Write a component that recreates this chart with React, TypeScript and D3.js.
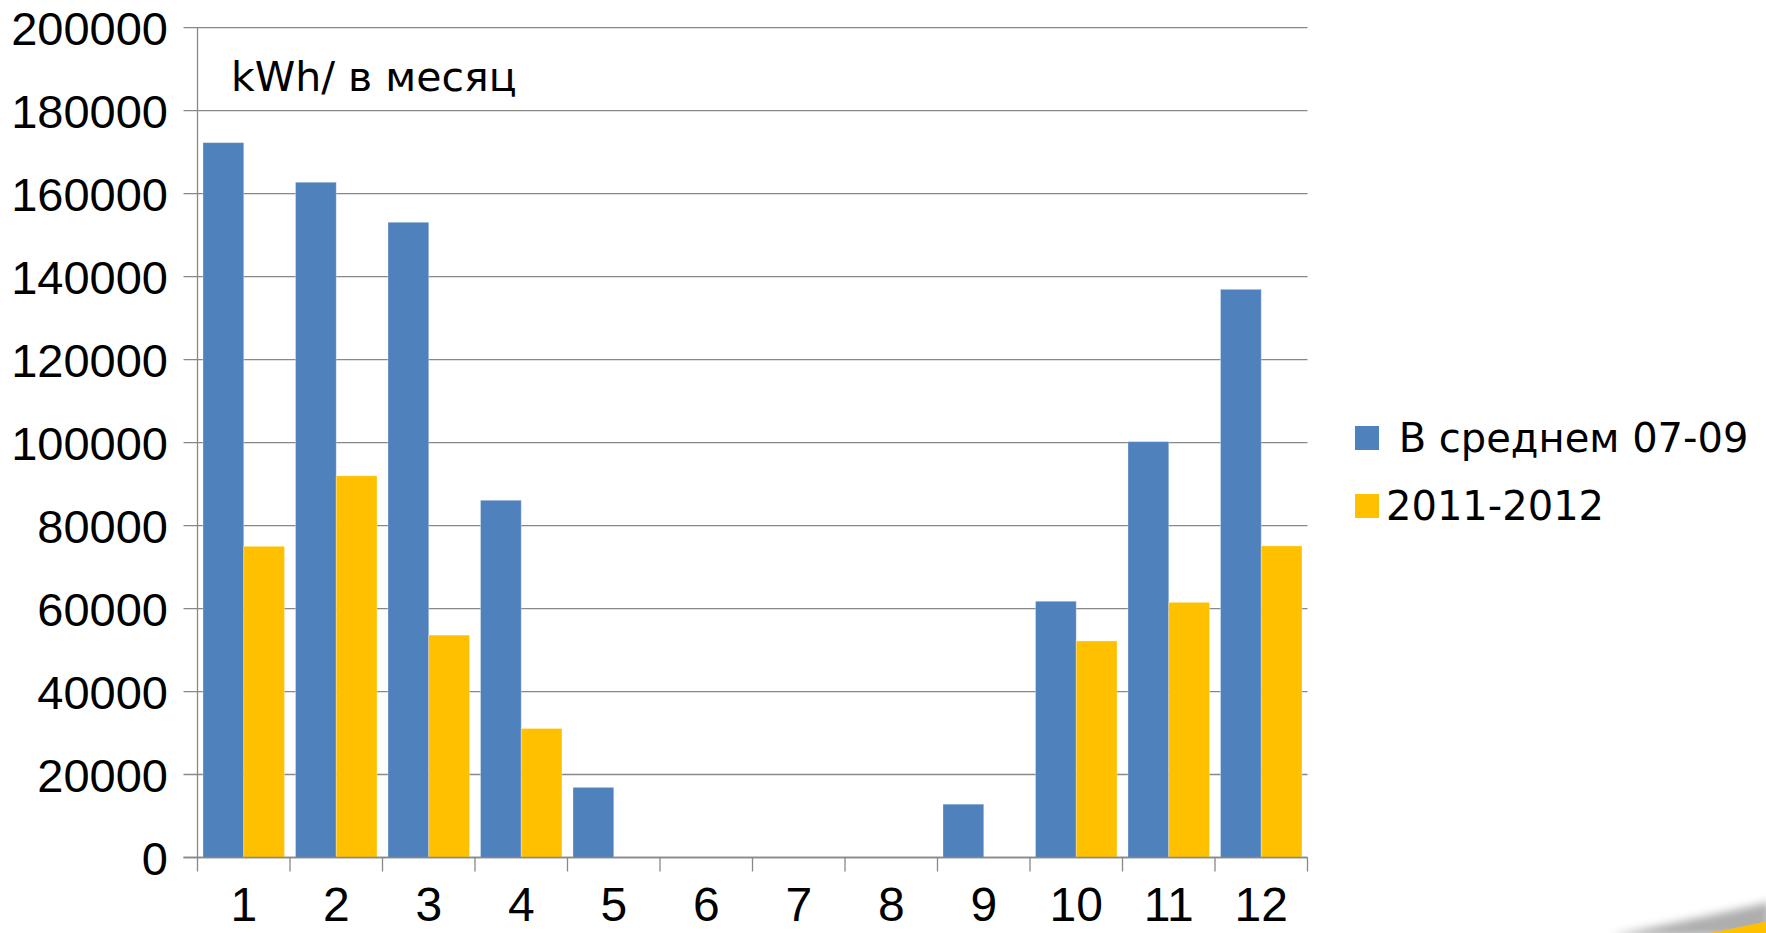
import React from 'react';
import * as d3 from 'd3';

const months = ['1', '2', '3', '4', '5', '6', '7', '8', '9', '10', '11', '12'];
const avg0709 = [172300, 162750, 153100, 86100, 16900, 0, 0, 0, 12850, 61760, 100240, 136940];
const y20112012 = [75000, 92000, 53600, 31100, 0, 0, 0, 0, 0, 52200, 61500, 75100];
const seriesNames = [' В среднем 07-09', '2011-2012'];
const seriesColors = ['#4F81BD', '#FFC000'];
const yTicks = [0, 20000, 40000, 60000, 80000, 100000, 120000, 140000, 160000, 180000, 200000];
const unitLabel = 'kWh/ в месяц';

const W = 1766;
const H = 933;
const plot = { left: 197.5, right: 1307.5, top: 27.7, bottom: 857.5 };

export default function App() {
  const x0 = d3.scaleBand<string>().domain(months).range([plot.left, plot.right]).paddingInner(0).paddingOuter(0);
  const x1 = d3.scaleBand<string>().domain(['a', 'b']).range([0, x0.bandwidth()]).paddingInner(0).paddingOuter(0.135);
  const y = d3.scaleLinear().domain([0, 200000]).range([plot.bottom, plot.top]);
  const series = [avg0709, y20112012];
  const keys = ['a', 'b'];
  const boundaries = months.map((m) => x0(m) as number).concat([plot.right]);
  const axisFont = '"Liberation Sans", Arial, sans-serif';
  const textFont = '"DejaVu Sans", Verdana, sans-serif';

  return (
    <svg width={W} height={H} style={{ position: 'absolute', left: 0, top: 0, background: '#fff' }}>
      <defs>
        <filter id="blur" x="-20%" y="-200%" width="140%" height="500%">
          <feGaussianBlur stdDeviation="4" />
        </filter>
      </defs>
      {/* gridlines */}
      {yTicks.map((t) => (
        <line key={t} x1={plot.left - 14} x2={plot.right} y1={y(t)} y2={y(t)} stroke="#888" strokeWidth={1.3} />
      ))}
      {/* bars */}
      {series.map((vals, si) =>
        vals.map((v, i) =>
          v > 0 ? (
            <rect
              key={si + '-' + i}
              x={(x0(months[i]) as number) + (x1(keys[si]) as number)}
              y={y(v)}
              width={x1.bandwidth()}
              height={plot.bottom - y(v)}
              fill={seriesColors[si]}
              stroke="rgba(255,255,255,0.3)"
              strokeWidth={1}
            />
          ) : null
        )
      )}
      {/* axes */}
      <line x1={plot.left} x2={plot.left} y1={plot.top} y2={plot.bottom} stroke="#888" strokeWidth={1.3} />
      <line x1={plot.left - 14} x2={plot.right} y1={plot.bottom} y2={plot.bottom} stroke="#888" strokeWidth={1.3} />
      {boundaries.map((bx, i) => (
        <line key={'xt' + i} x1={bx} x2={bx} y1={plot.bottom} y2={plot.bottom + 14} stroke="#888" strokeWidth={1.3} />
      ))}
      {/* y labels */}
      {yTicks.map((t) => (
        <text key={'yl' + t} x={168} y={y(t)} dy="0.37em" textAnchor="end" fontFamily={axisFont} fontSize={47} fill="#000">
          {t}
        </text>
      ))}
      {/* x labels */}
      {months.map((m) => (
        <text key={'xl' + m} x={(x0(m) as number) + x0.bandwidth() / 2} y={921} textAnchor="middle" fontFamily={axisFont} fontSize={48} fill="#000">
          {m}
        </text>
      ))}
      {/* unit label */}
      <text x={231} y={91} fontFamily={textFont} fontSize={41} fill="#000" style={{ whiteSpace: 'pre' }}>
        {unitLabel}
      </text>
      {/* legend */}
      {seriesNames.map((n, i) => (
        <g key={'lg' + i} transform={`translate(1355, ${426 + i * 68})`}>
          <rect x={0} y={0} width={24} height={24} fill={seriesColors[i]} />
          <text x={31} y={12} dy="0.36em" fontFamily={textFont} fontSize={40} fill="#000" style={{ whiteSpace: 'pre' }}>
            {n}
          </text>
        </g>
      ))}
      {/* decorative corner swoosh */}
      <path d="M1610,936 Q1700,918 1770,902 L1770,936 Z" fill="#9a9a9a" filter="url(#blur)" opacity={0.8} />
      <path d="M1705,934 Q1740,927 1768,921 L1768,934 Z" fill="#FFC000" />
    </svg>
  );
}
